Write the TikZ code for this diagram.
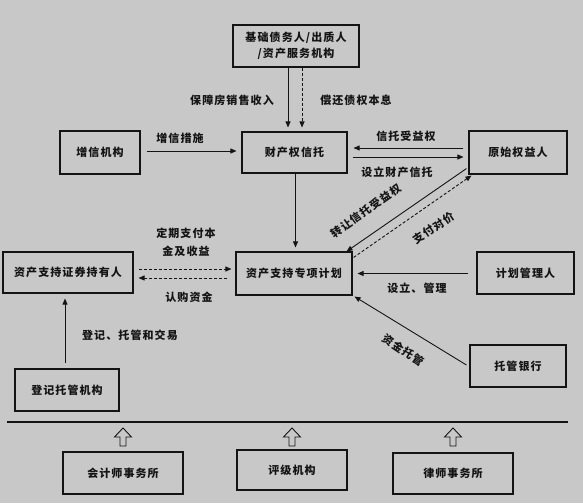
\documentclass[tikz,border=0pt]{standalone}
\usepackage{fontspec}
\newfontfamily\cjk{Noto Sans CJK SC}[LetterSpace=10]
\usetikzlibrary{arrows.meta}
\definecolor{bgc}{RGB}{200,200,200}
\definecolor{ink}{RGB}{20,20,20}
\begin{document}
\begin{tikzpicture}[x=1pt,y=-1pt,
  box/.style={draw=ink, line width=1.1pt, fill=bgc, inner sep=0pt, align=center,
    font={\cjk\bfseries\fontsize{11}{16}\selectfont}, text=ink},
  lbl/.style={inner sep=0pt, align=center, font={\cjk\bfseries\fontsize{11}{18}\selectfont}, text=ink},
  arr/.style={draw=ink, line width=0.9pt, -{Triangle[length=6pt,width=5pt]}},
  darr/.style={arr, dash pattern=on 3pt off 2pt},
  uparrow/.pic={\draw[draw=ink, line width=0.9pt, fill=bgc] (0,0) -- (8.5,9) -- (3,9) -- (3,18) -- (-3,18) -- (-3,9) -- (-8.5,9) -- cycle;}
]
\fill[bgc] (0,0) rectangle (583,503);
\useasboundingbox (0,0) rectangle (583,503);

% boxes
\node[box, minimum width=126pt, minimum height=42pt] (top) at (296,46) {基础债务人/出质人\\/资产服务机构};
\node[box, minimum width=80pt, minimum height=43pt] (zx) at (100,152.5) {增信机构};
\node[box, minimum width=105pt, minimum height=41pt] (trust) at (294.5,152.5) {财产权信托};
\node[box, minimum width=98pt, minimum height=43pt] (ys) at (518,152.5) {原始权益人};
\node[box, minimum width=130pt, minimum height=41pt] (holder) at (68,272.5) {资产支持证券持有人};
\node[box, minimum width=116pt, minimum height=43pt] (plan) at (294,273.5) {资产支持专项计划};
\node[box, minimum width=97pt, minimum height=42pt] (mgr) at (525.5,273) {计划管理人};
\node[box, minimum width=104pt, minimum height=42pt] (dj) at (67,390) {登记托管机构};
\node[box, minimum width=96pt, minimum height=42pt] (bank) at (518,366) {托管银行};
\node[box, minimum width=120pt, minimum height=42pt] (kj) at (123,473) {会计师事务所};
\node[box, minimum width=110pt, minimum height=40pt] (pj) at (292,470) {评级机构};
\node[box, minimum width=120pt, minimum height=41pt] (ls) at (453,473.5) {律师事务所};

% connectors
\draw[arr, shorten >=4pt] ([xshift=-8pt]top.south) -- ([xshift=-8pt]top.south |- trust.north);
\draw[darr, shorten >=4pt] ([xshift=6pt]top.south) -- ([xshift=6pt]top.south |- trust.north);
\draw[arr, shorten <=6pt, shorten >=5pt] ([yshift=1.5pt]zx.east) -- ([yshift=1.5pt]zx.east -| trust.west);
\draw[arr, shorten <=5pt, shorten >=5pt] ([yshift=-4.5pt]trust.east) -- ([yshift=-4.5pt]trust.east -| ys.west);
\draw[arr, shorten <=5pt, shorten >=6pt] ([yshift=4.5pt]ys.west) -- ([yshift=4.5pt]ys.west -| trust.east);
\draw[arr, shorten >=4pt] ([xshift=1pt]trust.south) -- ([xshift=1pt]trust.south |- plan.north);
\draw[darr, shorten <=8pt, shorten >=5pt] ([yshift=-4.5pt]plan.west) -- ([yshift=-4.5pt]plan.west -| holder.east);
\draw[darr, shorten <=5pt, shorten >=4pt] ([yshift=3.5pt]holder.east) -- ([yshift=3.5pt]holder.east -| plan.west);
\draw[arr, shorten <=8pt, shorten >=5pt] ([yshift=-0.5pt]mgr.west) -- ([yshift=-0.5pt]mgr.west -| plan.east);
\draw[arr] ([shift={(-2,-6)}]ys.south west) -- ([shift={(-6,0)}]plan.north east);
\draw[darr] ([shift={(1,6)}]plan.north east) -- ([shift={(3,1)}]ys.south west);
\draw[arr] ([shift={(-3,-1)}]bank.west) -- ([shift={(2,1)}]plan.south east);
\draw[arr, shorten <=5pt, shorten >=5pt] ([xshift=-2pt]dj.north) -- ([xshift=-2pt]dj.north |- holder.south);

% labels
\node[lbl] (l1) at (232,100) {保障房销售收入};
\node[lbl] (l2) at (356,100) {偿还债权本息};
\node[lbl] (l3) at (180,138) {增信措施};
\node[lbl] (l4) at (406,136) {信托受益权};
\node[lbl] (l5) at (397,172) {设立财产信托};
\node[lbl] (l6) at (186,242) {定期支付本\\金及收益};
\node[lbl] (l7) at (189,297) {认购资金};
\node[lbl] (l8) at (417,288) {设立、管理};
\node[lbl, rotate=35] (l9) at (366,211) {转让信托受益权};
\node[lbl, rotate=34] (l10) at (434,228) {支付对价};
\node[lbl, rotate=-34] (l11) at (403,350) {资金托管};
\node[lbl] (l12) at (130,335) {登记、托管和交易};

% divider and block arrows
\coordinate (hl1) at (7,422);
\coordinate (hl2) at (568,422);
\draw[draw=ink, line width=1.1pt] (hl1) -- (hl2);
\pic (ua1) at (123,428) {uparrow};
\pic (ua2) at (292,428) {uparrow};
\pic (ua3) at (453,428) {uparrow};
\end{tikzpicture}
\end{document}
